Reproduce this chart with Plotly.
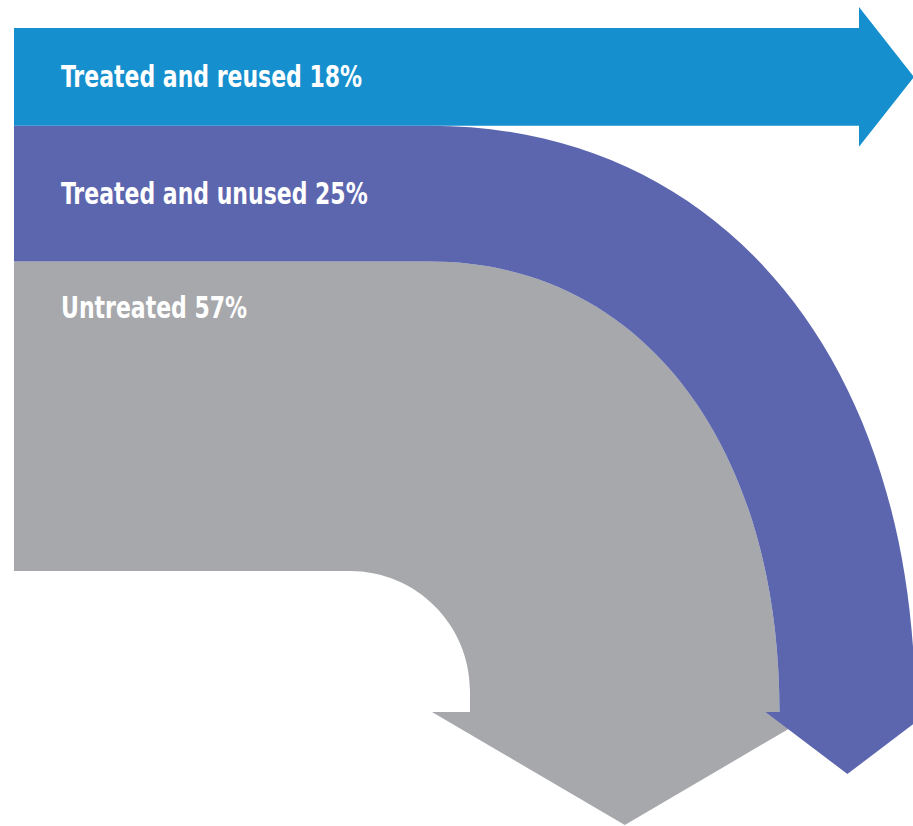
import plotly.graph_objects as go

# Wastewater flows, share of total (%)
categories = ["Treated and reused", "Treated and unused", "Untreated"]
shares = [18, 25, 57]
colors = ["#168fce", "#5c66ae", "#a7a8ac"]

# Diagram geometry (plot units = pixels, y grows downward)
W, H = 913, 826
X_LEFT = 14          # left edge of all bands
Y_TOP = 28           # top of the stacked bands
PX_PER_PCT = 5.43    # band thickness per percentage point
TURN_X = 430         # where the turning bands start to bend
BASE_Y = 712         # base line of the downward arrow heads
GRAY_IN_X = 470      # inner edge of the untreated band once it points down
INNER_R = 120        # radius of the untreated band's inner bend
K_OUT = 0.6          # bezier handle factor for the outer bends
K_CIRC = 0.5523      # bezier handle factor for a quarter circle

thick = [s * PX_PER_PCT for s in shares]
y_edges = [Y_TOP]
for t in thick:
    y_edges.append(y_edges[-1] + t)
y_blue_top, y_blue_bot, y_purple_bot, y_gray_bot = y_edges

gray_out_x = GRAY_IN_X + thick[2]
purple_out_x = gray_out_x + thick[1]


def fmt(x, y):
    return f"{x:.1f},{y:.1f}"


def outer_bend(x_end, y_start):
    """Cubic curve from (TURN_X, y_start) heading right to (x_end, BASE_Y) heading down."""
    c1 = fmt(TURN_X + K_OUT * (x_end - TURN_X), y_start)
    c2 = fmt(x_end, BASE_Y - K_OUT * (BASE_Y - y_start))
    return f"C {c1} {c2} {fmt(x_end, BASE_Y)}"


def outer_bend_rev(x_end, y_start):
    """Same curve, traversed from the bottom back to the horizontal run."""
    c1 = fmt(x_end, BASE_Y - K_OUT * (BASE_Y - y_start))
    c2 = fmt(TURN_X + K_OUT * (x_end - TURN_X), y_start)
    return f"C {c1} {c2} {fmt(TURN_X, y_start)}"


# Untreated: turns down with a wide head
g_over, g_len = 38, 113
g_cx = (GRAY_IN_X + gray_out_x) / 2
gray_path = (
    f"M {fmt(X_LEFT, y_purple_bot)} L {fmt(TURN_X, y_purple_bot)} "
    + outer_bend(gray_out_x, y_purple_bot)
    + f" L {fmt(gray_out_x + g_over, BASE_Y)} L {fmt(g_cx, BASE_Y + g_len)}"
    + f" L {fmt(GRAY_IN_X - g_over, BASE_Y)} L {fmt(GRAY_IN_X, BASE_Y)}"
    + f" L {fmt(GRAY_IN_X, y_gray_bot + INNER_R)}"
    + f" C {fmt(GRAY_IN_X, y_gray_bot + INNER_R - K_CIRC * INNER_R)}"
    + f" {fmt(GRAY_IN_X - INNER_R + K_CIRC * INNER_R, y_gray_bot)}"
    + f" {fmt(GRAY_IN_X - INNER_R, y_gray_bot)}"
    + f" L {fmt(X_LEFT, y_gray_bot)} Z"
)

# Treated and unused: turns down around the untreated band
p_over, p_len = 14, 62
p_cx = (gray_out_x + purple_out_x) / 2
purple_path = (
    f"M {fmt(X_LEFT, y_blue_bot)} L {fmt(TURN_X, y_blue_bot)} "
    + outer_bend(purple_out_x, y_blue_bot)
    + f" L {fmt(purple_out_x + p_over, BASE_Y)} L {fmt(p_cx, BASE_Y + p_len)}"
    + f" L {fmt(gray_out_x - p_over, BASE_Y)} L {fmt(gray_out_x, BASE_Y)} "
    + outer_bend_rev(gray_out_x, y_purple_bot)
    + f" L {fmt(X_LEFT, y_purple_bot)} Z"
)

# Treated and reused: straight arrow to the right
b_head_x, b_over, b_tip_x = 859, 21, 914
b_cy = (y_blue_top + y_blue_bot) / 2
blue_path = (
    f"M {fmt(X_LEFT, y_blue_top)} L {fmt(b_head_x, y_blue_top)}"
    f" L {fmt(b_head_x, y_blue_top - b_over)} L {fmt(b_tip_x, b_cy)}"
    f" L {fmt(b_head_x, y_blue_bot + b_over)} L {fmt(b_head_x, y_blue_bot)}"
    f" L {fmt(X_LEFT, y_blue_bot)} Z"
)

fig = go.Figure()
shapes = []
for path, col in [(gray_path, colors[2]), (purple_path, colors[1]), (blue_path, colors[0])]:
    shapes.append(dict(type="path", path=path, xref="x", yref="y",
                       fillcolor=col, line=dict(width=0), layer="below"))

label_y = [
    (y_blue_top + y_blue_bot) / 2,
    (y_blue_bot + y_purple_bot) / 2,
    y_purple_bot + 46,
]
annotations = []
for cat, s, ly in zip(categories, shares, label_y):
    annotations.append(dict(
        x=59, y=ly, xref="x", yref="y", text=f"{cat} {s}%",
        showarrow=False, xanchor="left", yanchor="middle",
        font=dict(family="DejaVu Sans Condensed, Liberation Sans",
                  size=30, color="white", weight="bold"),
    ))

# invisible trace so the axes are laid out
fig.add_trace(go.Scatter(x=[0, W], y=[0, H], mode="markers",
                         marker=dict(opacity=0), hoverinfo="skip", showlegend=False))

fig.update_layout(
    width=W, height=H,
    margin=dict(l=0, r=0, t=0, b=0),
    paper_bgcolor="white", plot_bgcolor="white",
    shapes=shapes, annotations=annotations,
    xaxis=dict(range=[0, W], visible=False, fixedrange=True),
    yaxis=dict(range=[H, 0], visible=False, fixedrange=True),
    showlegend=False,
)

# narrow the label lettering to a condensed width, keeping the left edge fixed
squeeze_js = """
var gd = document.getElementById('{plot_id}');
function squeezeLabels() {
  gd.querySelectorAll('.annotation-text').forEach(function (t) {
    t.style.transformBox = 'fill-box';
    t.style.transformOrigin = 'left center';
    t.style.transform = 'scaleX(0.815)';
  });
}
squeezeLabels();
gd.on('plotly_afterplot', squeezeLabels);
"""

fig.write_html("out.html", post_script=squeeze_js)
